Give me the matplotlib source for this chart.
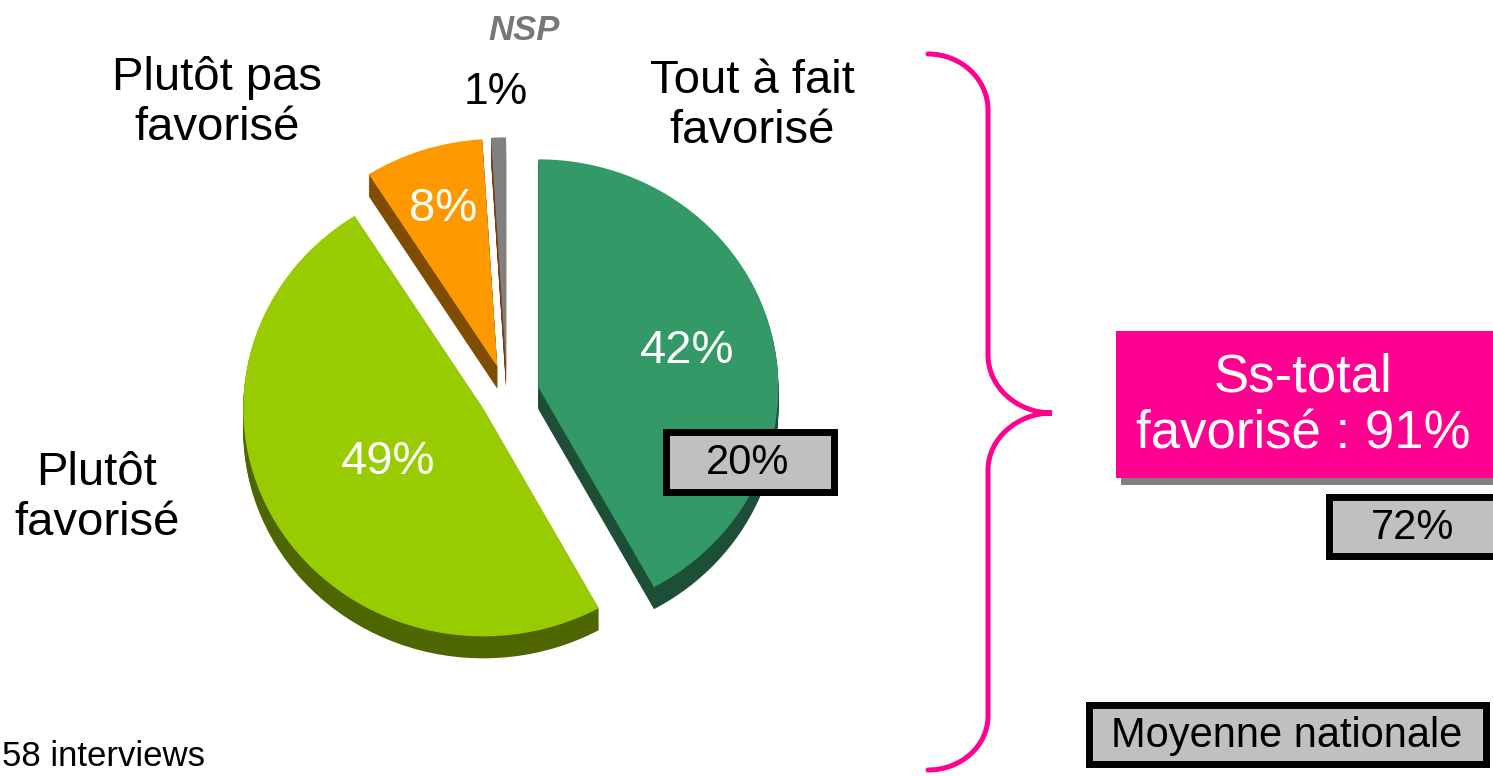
import matplotlib
matplotlib.use("Agg")
from matplotlib import pyplot as plt
from matplotlib.patches import Rectangle, PathPatch
from matplotlib.path import Path
import numpy as np

plt.rcParams['font.family'] = ['Liberation Sans', 'DejaVu Sans']

# data
categories = ['Tout à fait favorisé', 'Plutôt favorisé', 'Plutôt pas favorisé', 'NSP']
values = [42, 49, 8, 1]
national = [20, 72]          # moyenne nationale : "tout à fait" et ss-total
sous_total = values[0] + values[1]
base_text = "58 interviews"

# style
top_colors = ['#339966', '#99CC00', '#FF9900', '#808080']
side_colors = ['#1D4E36', '#4D6600', '#7F4C00', '#7A3A10']
explode = [0.135, 0.115, 0.13, 0.13]
label_dist = [0.64, 0.46, 0.73, 0.0]
pink = '#FF0090'
W, H = 1493, 776

fig = plt.figure(figsize=(W / 100, H / 100), dpi=100)

# pie axes : centre (507, 395) px, rayon 240 x 228 px
cx, cy, rx, ry, half = 507, 395, 240, 228, 300
ax = fig.add_axes([(cx - half) / W, (H - cy - half) / H, 2 * half / W, 2 * half / H])

depth = 22 / ry
for k in np.linspace(depth, 0.004, 16):
    ax.pie(values, colors=side_colors, startangle=90, counterclock=False,
           explode=explode, center=(0, -k), wedgeprops=dict(linewidth=0), frame=False)

wedges, texts, autotexts = ax.pie(values, colors=top_colors, startangle=90, counterclock=False,
                                  explode=explode, wedgeprops=dict(linewidth=0), frame=False,
                                  autopct=lambda p: f'{p:.0f}%' if p >= 5 else '',
                                  textprops=dict(color='white', fontsize=34))
for w, t, d in zip(wedges, autotexts, label_dist):
    mid = np.deg2rad((w.theta1 + w.theta2) / 2)
    t.set_position((w.center[0] + d * np.cos(mid), w.center[1] + d * np.sin(mid)))
    t.set_ha('center')
    t.set_va('center')

ax.set_xlim(-half / rx, half / rx)
ax.set_ylim(-half / ry, half / ry)
ax.set_aspect('auto')

# overlay in pixel coordinates
ov = fig.add_axes([0, 0, 1, 1])
ov.set_xlim(0, W)
ov.set_ylim(H, 0)
ov.axis('off')

ov.text(752, 106, 'Tout à fait\nfavorisé', fontsize=34, ha='center', va='center')
ov.text(217, 103, 'Plutôt pas\nfavorisé', fontsize=34, ha='center', va='center')
ov.text(97, 498, 'Plutôt\nfavorisé', fontsize=34, ha='center', va='center')
ov.text(524, 30, categories[3], fontsize=25, ha='center', va='center',
        fontweight='bold', fontstyle='italic', color='#777777')
ov.text(496, 92, f'{values[3]}%', fontsize=32, ha='center', va='center')
ov.text(2, 766, base_text, fontsize=25, ha='left', va='baseline')

# boites moyenne nationale
def gray_box(x0, y0, x1, y1, txt, tx, ty):
    ov.add_patch(Rectangle((x0 + 3.5, y0 + 3.5), x1 - x0 - 7, y1 - y0 - 7,
                           facecolor='#C0C0C0', edgecolor='black', linewidth=5, zorder=3))
    ov.text(tx, ty, txt, fontsize=30, ha='center', va='center', zorder=4)

gray_box(662, 428, 837, 495, f'{national[0]}%', 748, 463)
gray_box(1325, 493, 1560, 559, f'{national[1]}%', 1413, 528)
gray_box(1085, 701, 1489, 767, 'Moyenne nationale', 1287, 736)

# sous-total
ov.add_patch(Rectangle((1121, 336), 420, 149, facecolor='#808080', linewidth=0, zorder=2))
ov.add_patch(Rectangle((1116, 331), 420, 147, facecolor=pink, linewidth=0, zorder=3))
ov.text(1303, 406, f'Ss-total\nfavorisé : {sous_total}%', fontsize=38, color='white',
        ha='center', va='center', zorder=4)

# accolade
verts = [(928, 54), (961, 54), (988, 79), (988, 110),
         (988, 355),
         (988, 387), (1017, 413), (1052, 413),
         (1017, 413), (988, 439), (988, 470),
         (988, 716),
         (988, 746), (961, 770), (928, 770)]
codes = [Path.MOVETO, Path.CURVE4, Path.CURVE4, Path.CURVE4,
         Path.LINETO,
         Path.CURVE4, Path.CURVE4, Path.CURVE4,
         Path.CURVE4, Path.CURVE4, Path.CURVE4,
         Path.LINETO,
         Path.CURVE4, Path.CURVE4, Path.CURVE4]
ov.add_patch(PathPatch(Path(verts, codes), facecolor='none', edgecolor=pink,
                       linewidth=3.6, capstyle='round'))

plt.savefig("out.png", dpi=100)
